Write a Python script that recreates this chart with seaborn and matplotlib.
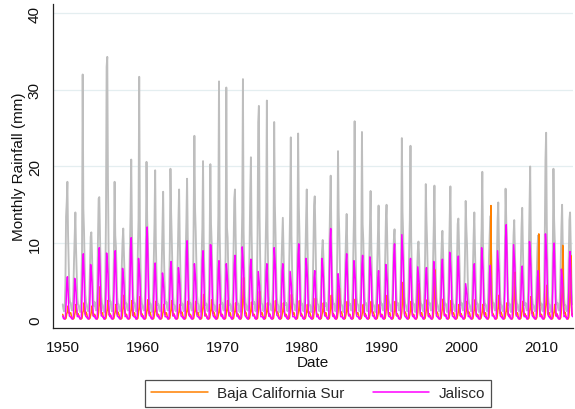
import numpy as np
import pandas as pd
import matplotlib
matplotlib.use("Agg")
import matplotlib.pyplot as plt
import seaborn as sns
from matplotlib.lines import Line2D

# Monthly rainfall (mm), one row per year, Jan..Dec
years = list(range(1950, 2014))

background_rows = [
    "2.0 1.4 1.1 1.5 4.5 13.5 15.3 18.0 11.2 7.4 3.1 2.2",
    "2.2 1.5 1.2 1.4 3.6 7.8 11.0 14.0 9.3 5.8 2.8 2.0",
    "1.9 1.3 1.0 1.5 4.1 9.0 32.0 14.5 11.6 6.9 3.3 2.3",
    "2.0 1.4 1.1 1.3 3.4 6.8 10.8 11.4 8.6 5.2 2.6 1.8",
    "2.3 1.6 1.2 1.6 4.0 10.5 15.8 16.0 11.1 6.4 3.0 2.1",
    "1.9 1.2 1.0 1.4 4.3 13.0 33.0 34.3 18.2 8.8 3.4 2.4",
    "2.4 1.5 1.1 1.5 3.7 9.0 18.0 11.0 9.5 5.9 2.9 2.0",
    "2.0 1.3 1.1 1.4 3.2 7.5 10.3 11.9 8.8 5.6 2.6 2.1",
    "2.1 1.4 1.2 1.7 4.4 9.5 14.0 20.9 12.3 6.6 3.1 2.2",
    "2.2 1.5 1.1 1.5 3.8 9.0 13.0 31.7 12.5 6.8 3.0 2.1",
    "1.9 1.4 1.2 1.4 4.1 10.0 20.6 13.0 10.6 6.2 2.9 2.0",
    "2.1 1.3 1.0 1.5 3.6 8.0 12.5 19.5 10.2 5.9 2.7 1.9",
    "2.0 1.4 1.1 1.3 3.5 7.5 12.0 16.7 9.7 5.3 2.8 2.1",
    "2.3 1.5 1.2 1.6 4.0 9.0 19.7 14.0 10.5 6.3 3.0 2.0",
    "1.9 1.3 1.1 1.4 3.7 8.5 13.0 17.0 10.4 6.0 2.6 1.9",
    "2.1 1.4 1.1 1.5 3.9 9.0 13.0 18.4 10.9 6.4 2.9 2.1",
    "2.2 1.5 1.2 1.6 4.2 13.4 24.0 14.5 11.5 7.0 3.1 2.2",
    "2.0 1.3 1.0 1.4 3.5 8.5 12.0 20.7 10.3 6.1 2.7 1.9",
    "2.1 1.4 1.1 1.5 3.8 10.6 20.3 12.5 10.0 5.9 2.8 2.0",
    "1.9 1.3 1.1 1.4 4.0 9.0 13.5 31.1 11.4 6.7 3.0 2.1",
    "2.2 1.5 1.2 1.6 3.6 8.5 30.3 12.0 10.7 6.2 2.9 1.9",
    "2.0 1.4 1.1 1.4 3.7 9.5 15.8 17.0 11.1 6.4 2.8 2.0",
    "2.1 1.3 1.0 1.5 4.1 9.0 14.0 31.4 11.8 6.5 3.1 2.2",
    "1.9 1.4 1.2 1.6 3.9 9.5 16.6 21.2 11.5 6.6 2.9 2.1",
    "2.3 1.5 1.1 1.5 4.3 11.0 25.8 27.9 13.4 7.5 3.2 2.2",
    "2.0 1.3 1.1 1.4 3.8 9.0 14.0 28.6 11.6 6.5 3.0 2.0",
    "2.1 1.4 1.2 1.6 4.0 9.5 25.8 15.0 11.2 6.3 2.9 2.1",
    "1.9 1.3 1.0 1.4 3.4 7.5 10.5 13.3 9.0 5.2 2.6 1.9",
    "2.2 1.5 1.1 1.5 3.9 9.0 14.5 23.8 11.0 6.4 3.0 2.1",
    "2.0 1.4 1.2 1.6 4.1 9.5 24.3 15.0 11.3 6.5 2.8 2.0",
    "2.1 1.3 1.1 1.4 3.7 8.5 13.0 17.0 10.4 6.0 2.7 1.9",
    "1.9 1.4 1.0 1.5 3.8 9.0 14.9 16.1 10.8 6.2 2.9 2.1",
    "2.0 1.3 1.1 1.4 3.2 6.5 9.0 10.4 8.4 5.0 2.5 1.8",
    "2.2 1.5 1.2 1.6 4.0 9.5 14.5 18.8 11.1 6.4 3.0 2.1",
    "2.1 1.4 1.1 1.5 3.9 9.5 22.0 14.0 10.9 6.2 2.8 2.0",
    "1.9 1.3 1.0 1.4 3.5 7.5 11.0 13.8 9.2 5.4 2.7 1.9",
    "2.1 1.4 1.2 1.5 3.8 9.0 13.5 25.9 11.2 6.3 2.9 2.1",
    "2.0 1.5 1.1 1.6 3.7 8.5 24.5 12.5 10.4 6.0 2.8 2.0",
    "2.2 1.4 1.1 1.4 3.6 8.0 12.0 16.8 9.9 5.8 2.7 1.9",
    "1.9 1.3 1.0 1.5 3.4 7.5 11.0 14.9 9.4 5.5 2.6 2.0",
    "2.1 1.4 1.2 1.4 3.7 8.0 13.0 15.0 10.1 5.9 2.8 2.1",
    "2.0 1.3 1.1 1.6 3.5 7.5 10.5 11.8 9.1 5.3 2.7 1.9",
    "2.2 1.5 1.2 1.5 4.0 9.5 23.7 14.0 11.0 6.4 3.0 2.1",
    "1.9 1.4 1.1 1.4 3.8 9.0 13.0 22.7 10.7 6.1 2.9 2.0",
    "2.1 1.3 1.0 1.5 3.3 6.5 9.0 10.2 8.1 4.9 2.5 1.9",
    "2.0 1.4 1.1 1.4 3.6 8.5 17.7 13.0 10.0 5.8 2.8 2.0",
    "2.2 1.5 1.2 1.6 3.7 8.0 12.0 17.5 10.2 5.9 2.9 2.1",
    "1.9 1.3 1.1 1.4 3.4 7.5 10.0 11.6 8.9 5.2 2.6 1.9",
    "2.1 1.4 1.0 1.5 3.6 8.5 13.0 17.4 10.1 5.9 2.8 2.0",
    "2.0 1.3 1.1 1.4 3.5 8.0 12.5 13.2 9.6 5.6 2.7 1.9",
    "2.2 1.5 1.2 1.6 3.7 8.5 15.5 12.0 9.8 5.7 2.9 2.1",
    "1.9 1.4 1.1 1.4 3.4 7.5 11.0 14.0 9.2 5.4 2.6 2.0",
    "2.1 1.3 1.0 1.5 3.6 8.5 12.0 19.3 10.2 5.9 2.8 1.9",
    "2.0 1.4 1.1 1.4 3.5 8.0 11.0 13.5 9.4 5.5 2.7 2.1",
    "2.2 1.5 1.2 1.6 3.7 8.5 13.0 15.3 10.0 5.8 2.9 2.0",
    "1.9 1.3 1.1 1.4 3.6 9.0 17.1 13.0 10.1 5.9 2.8 1.9",
    "2.1 1.4 1.0 1.5 3.4 7.5 11.0 13.0 9.1 5.3 2.7 2.1",
    "2.0 1.3 1.1 1.4 3.5 8.0 12.0 14.6 9.6 5.6 2.6 1.9",
    "2.2 1.5 1.2 1.6 3.8 9.0 14.0 20.0 10.6 6.1 2.9 2.0",
    "1.9 1.4 1.1 1.4 3.2 6.5 9.5 11.0 8.3 5.0 2.5 1.9",
    "2.1 1.3 1.1 1.5 4.0 11.0 20.9 24.4 12.5 7.0 3.1 2.1",
    "2.0 1.4 1.0 1.4 3.6 8.5 19.7 13.0 10.2 5.9 2.8 2.0",
    "2.2 1.5 1.2 1.6 3.7 8.0 12.0 15.0 9.8 5.7 2.8 1.9",
    "1.9 1.3 1.1 1.4 3.5 8.0 13.0 14.0 9.7 5.6 2.7 2.0",
]

bcs_rows = [
    "0.7 0.4 0.2 0.1 0.1 0.2 0.8 1.0 1.8 0.9 0.8 0.9",
    "0.9 0.5 0.2 0.1 0.1 0.2 0.7 1.1 2.0 1.0 0.6 0.8",
    "0.6 0.3 0.2 0.1 0.1 0.2 0.9 1.2 2.2 1.1 0.7 1.0",
    "0.8 0.4 0.2 0.1 0.1 0.2 0.6 1.0 1.8 0.9 0.5 0.7",
    "0.7 0.5 0.2 0.1 0.1 0.3 1.0 2.4 4.3 1.8 0.8 0.9",
    "0.9 0.3 0.2 0.1 0.1 0.2 0.8 1.4 2.5 1.2 0.6 0.8",
    "0.6 0.4 0.2 0.1 0.1 0.2 0.7 1.1 2.0 1.0 0.7 1.0",
    "0.8 0.5 0.2 0.1 0.1 0.2 0.9 1.8 3.2 1.4 0.8 0.7",
    "0.7 0.3 0.2 0.1 0.1 0.2 0.8 1.4 2.5 1.2 0.5 0.9",
    "0.9 0.4 0.2 0.1 0.1 0.2 0.9 1.7 3.0 1.3 0.7 0.8",
    "0.6 0.5 0.2 0.1 0.1 0.2 0.8 1.4 2.6 1.2 0.8 1.0",
    "0.8 0.3 0.2 0.1 0.1 0.2 0.7 1.3 2.4 1.1 0.6 0.7",
    "0.7 0.4 0.2 0.1 0.1 0.2 0.6 1.1 2.0 1.0 0.7 0.9",
    "0.9 0.5 0.2 0.1 0.1 0.2 0.8 1.4 2.5 1.2 0.5 0.8",
    "0.6 0.3 0.2 0.1 0.1 0.2 0.7 1.1 2.0 1.0 0.8 1.0",
    "0.8 0.4 0.2 0.1 0.1 0.2 0.8 1.3 2.4 1.1 0.6 0.7",
    "0.7 0.5 0.2 0.1 0.1 0.2 0.7 1.3 2.4 1.1 0.7 0.9",
    "0.9 0.3 0.2 0.1 0.1 0.2 0.9 1.8 3.3 1.5 0.5 0.8",
    "0.6 0.4 0.2 0.1 0.1 0.2 0.8 1.4 2.6 1.2 0.8 1.0",
    "0.8 0.5 0.2 0.1 0.1 0.2 0.6 1.1 2.0 1.0 0.6 0.7",
    "0.7 0.3 0.2 0.1 0.1 0.2 0.8 1.4 2.5 1.2 0.7 0.9",
    "0.9 0.4 0.2 0.1 0.1 0.2 0.7 1.2 2.2 1.1 0.5 0.8",
    "0.6 0.5 0.2 0.1 0.1 0.3 1.1 3.0 5.5 2.2 0.8 1.0",
    "0.8 0.3 0.2 0.1 0.1 0.2 0.7 1.3 2.3 1.1 0.6 0.7",
    "0.7 0.4 0.2 0.1 0.1 0.2 1.0 2.0 3.7 1.6 0.7 0.9",
    "0.9 0.5 0.2 0.1 0.1 0.2 0.7 1.2 2.2 1.1 0.5 0.8",
    "0.6 0.3 0.2 0.1 0.1 0.2 0.8 1.4 2.5 1.2 0.8 1.0",
    "0.8 0.4 0.2 0.1 0.1 0.2 0.7 1.2 2.2 1.1 0.6 0.7",
    "0.7 0.5 0.2 0.1 0.1 0.2 0.9 1.8 3.3 1.5 0.7 0.9",
    "0.9 0.3 0.2 0.1 0.1 0.2 0.8 1.4 2.5 1.2 0.5 0.8",
    "0.6 0.4 0.2 0.1 0.1 0.2 0.6 1.1 2.0 1.0 0.8 1.0",
    "0.8 0.5 0.2 0.1 0.1 0.2 0.8 1.5 2.8 1.3 0.6 0.7",
    "0.7 0.3 0.2 0.1 0.1 0.2 0.7 1.2 2.2 1.1 0.7 0.9",
    "0.9 0.4 0.2 0.1 0.1 0.2 0.9 1.8 3.2 1.4 0.5 0.8",
    "0.6 0.5 0.2 0.1 0.1 0.3 1.0 2.3 4.1 1.7 0.8 1.0",
    "0.8 0.3 0.2 0.1 0.1 0.2 0.7 1.3 2.4 1.1 0.6 0.7",
    "0.7 0.4 0.2 0.1 0.1 0.2 0.8 1.5 2.7 1.2 0.7 0.9",
    "0.9 0.5 0.2 0.1 0.1 0.2 0.6 1.1 2.0 1.0 0.5 0.8",
    "0.6 0.3 0.2 0.1 0.1 0.2 0.7 1.3 2.4 1.1 0.8 1.0",
    "0.8 0.4 0.2 0.1 0.1 0.2 0.6 1.1 2.0 1.0 0.6 0.7",
    "0.7 0.5 0.2 0.1 0.1 0.2 0.9 1.8 3.2 1.4 0.7 0.9",
    "0.9 0.3 0.2 0.1 0.1 0.2 0.7 1.3 2.4 1.1 0.5 0.8",
    "0.6 0.4 0.2 0.1 0.1 0.3 1.1 2.7 4.9 2.0 0.8 1.0",
    "0.8 0.5 0.2 0.1 0.1 0.2 0.7 1.3 2.4 1.1 0.6 0.7",
    "0.7 0.3 0.2 0.1 0.1 0.3 1.0 2.6 4.7 1.9 0.7 0.9",
    "0.9 0.4 0.2 0.1 0.1 0.2 0.8 1.4 2.6 1.2 0.5 0.8",
    "0.6 0.5 0.2 0.1 0.1 0.3 1.2 3.6 6.5 2.6 0.8 1.0",
    "0.8 0.3 0.2 0.1 0.1 0.2 0.8 1.5 2.7 1.2 0.6 0.7",
    "0.7 0.4 0.2 0.1 0.1 0.2 0.8 1.4 2.5 1.2 0.7 0.9",
    "0.9 0.5 0.2 0.1 0.1 0.2 0.6 1.1 2.0 1.0 0.5 0.8",
    "0.6 0.3 0.2 0.1 0.1 0.2 0.7 1.3 2.4 1.1 0.8 1.0",
    "0.8 0.4 0.2 0.1 0.1 0.2 0.8 1.4 2.6 1.2 0.6 0.7",
    "0.7 0.5 0.2 0.1 0.1 0.2 0.6 1.1 2.0 1.0 0.7 0.9",
    "0.9 0.3 0.2 0.1 0.1 0.3 1.5 5.2 14.9 3.4 0.9 0.8",
    "0.6 0.4 0.2 0.1 0.1 0.2 0.9 1.8 3.2 1.4 0.8 1.0",
    "0.8 0.5 0.2 0.1 0.1 0.2 0.7 1.2 2.2 1.1 0.6 0.7",
    "0.7 0.3 0.2 0.1 0.1 0.3 1.2 3.4 6.2 2.5 0.7 0.9",
    "0.9 0.4 0.2 0.1 0.1 0.2 0.7 1.3 2.4 1.1 0.5 0.8",
    "0.6 0.5 0.2 0.1 0.1 0.2 0.8 1.7 3.0 1.3 0.8 1.0",
    "0.8 0.3 0.2 0.1 0.1 0.3 1.4 4.5 11.2 2.8 0.6 0.7",
    "0.7 0.4 0.2 0.1 0.1 0.3 1.0 2.5 4.5 1.9 0.7 0.9",
    "0.9 0.5 0.2 0.1 0.1 0.2 0.6 1.1 2.0 1.0 0.5 0.8",
    "0.6 0.3 0.2 0.1 0.1 0.3 1.3 4.2 9.7 2.5 0.8 1.0",
    "0.8 0.4 0.2 0.1 0.1 0.3 1.2 3.8 8.4 2.3 0.6 0.7",
]

jalisco_rows = [
    "0.5 0.2 0.1 0.1 0.3 2.1 4.6 5.6 3.9 1.6 0.5 0.4",
    "0.4 0.2 0.1 0.1 0.4 2.2 5.4 4.7 3.6 1.5 0.4 0.5",
    "0.5 0.3 0.1 0.1 0.3 3.2 7.3 8.6 6.0 2.4 0.6 0.4",
    "0.4 0.2 0.1 0.1 0.4 2.9 7.2 6.3 4.9 2.0 0.5 0.4",
    "0.5 0.2 0.1 0.1 0.3 3.5 8.1 9.4 6.5 2.6 0.5 0.5",
    "0.4 0.3 0.1 0.1 0.4 3.4 8.7 7.6 6.0 2.4 0.6 0.4",
    "0.6 0.2 0.1 0.1 0.3 3.4 7.8 9.0 6.2 2.5 0.5 0.4",
    "0.4 0.2 0.1 0.1 0.4 2.6 6.7 5.8 4.6 1.9 0.4 0.5",
    "0.5 0.2 0.1 0.1 0.3 4.0 9.2 10.7 7.4 3.0 0.6 0.4",
    "0.4 0.3 0.1 0.1 0.4 3.1 8.0 6.9 5.5 2.2 0.5 0.4",
    "0.5 0.2 0.1 0.1 0.3 4.6 10.4 12.1 8.3 3.4 0.6 0.5",
    "0.4 0.2 0.1 0.1 0.4 2.8 6.4 7.4 5.1 2.1 0.5 0.4",
    "0.5 0.2 0.1 0.1 0.3 2.4 6.1 5.3 4.2 1.7 0.4 0.4",
    "0.4 0.3 0.1 0.1 0.4 2.9 6.6 7.6 5.3 2.1 0.5 0.5",
    "0.6 0.2 0.1 0.1 0.3 2.6 6.8 5.9 4.7 1.9 0.5 0.4",
    "0.4 0.2 0.1 0.1 0.4 3.9 8.9 10.3 7.1 2.9 0.6 0.4",
    "0.5 0.2 0.1 0.1 0.3 2.8 7.3 6.3 5.0 2.0 0.5 0.4",
    "0.4 0.3 0.1 0.1 0.4 3.4 7.8 9.0 6.2 2.5 0.5 0.5",
    "0.5 0.2 0.1 0.1 0.3 3.7 9.8 9.7 6.8 2.7 0.6 0.4",
    "0.4 0.2 0.1 0.1 0.4 2.9 6.6 7.7 5.3 2.2 0.5 0.4",
    "0.6 0.2 0.1 0.1 0.3 2.8 7.3 6.3 5.0 2.0 0.5 0.5",
    "0.4 0.3 0.1 0.1 0.4 3.2 7.2 8.4 5.8 2.4 0.5 0.4",
    "0.5 0.2 0.1 0.1 0.3 3.6 9.5 8.2 6.6 2.7 0.6 0.4",
    "0.4 0.2 0.1 0.1 0.4 3.0 6.8 7.9 5.5 2.2 0.5 0.5",
    "0.5 0.2 0.1 0.1 0.3 2.4 6.3 5.4 4.4 1.8 0.4 0.4",
    "0.4 0.3 0.1 0.1 0.4 2.8 6.3 7.3 5.0 2.0 0.5 0.4",
    "0.6 0.2 0.1 0.1 0.3 3.6 9.4 8.1 6.5 2.6 0.6 0.5",
    "0.4 0.2 0.1 0.1 0.4 2.8 6.3 7.3 5.0 2.0 0.5 0.4",
    "0.5 0.2 0.1 0.1 0.3 2.4 6.3 5.4 4.4 1.8 0.4 0.4",
    "0.4 0.3 0.1 0.1 0.4 3.8 8.5 9.9 6.9 2.8 0.6 0.5",
    "0.5 0.2 0.1 0.1 0.3 3.0 8.0 6.9 5.5 2.2 0.5 0.4",
    "0.4 0.2 0.1 0.1 0.4 2.4 5.5 6.4 4.4 1.8 0.4 0.4",
    "0.5 0.2 0.1 0.1 0.3 3.0 8.0 6.9 5.5 2.2 0.5 0.5",
    "0.4 0.3 0.1 0.1 0.4 4.5 10.2 11.9 8.2 3.3 0.6 0.4",
    "0.6 0.2 0.1 0.1 0.3 2.3 6.0 5.2 4.1 1.7 0.4 0.4",
    "0.4 0.2 0.1 0.1 0.4 3.3 7.4 8.6 5.9 2.4 0.5 0.5",
    "0.5 0.2 0.1 0.1 0.3 2.9 7.7 6.6 5.3 2.2 0.5 0.4",
    "0.4 0.3 0.1 0.1 0.4 3.2 7.2 8.4 5.8 2.4 0.5 0.4",
    "0.5 0.2 0.1 0.1 0.3 3.1 8.2 7.1 5.7 2.3 0.5 0.5",
    "0.4 0.2 0.1 0.1 0.4 2.4 5.5 6.4 4.4 1.8 0.4 0.4",
    "0.6 0.2 0.1 0.1 0.3 2.7 7.2 6.2 5.0 2.0 0.5 0.4",
    "0.4 0.3 0.1 0.1 0.4 3.8 8.5 9.9 6.9 2.8 0.6 0.5",
    "0.5 0.2 0.1 0.1 0.3 4.2 11.1 9.5 7.7 3.1 0.6 0.4",
    "0.4 0.2 0.1 0.1 0.4 3.0 6.9 8.0 5.5 2.2 0.5 0.4",
    "0.5 0.2 0.1 0.1 0.3 2.6 6.9 5.9 4.8 1.9 0.5 0.5",
    "0.4 0.3 0.1 0.1 0.4 2.6 5.8 6.8 4.7 1.9 0.4 0.4",
    "0.5 0.2 0.1 0.1 0.3 2.9 7.6 6.5 5.2 2.1 0.5 0.4",
    "0.4 0.2 0.1 0.1 0.4 3.0 6.8 7.9 5.5 2.2 0.5 0.5",
    "0.6 0.2 0.1 0.1 0.3 3.3 8.8 7.6 6.1 2.5 0.5 0.4",
    "0.4 0.2 0.1 0.1 0.4 3.2 7.1 8.3 5.7 2.3 0.5 0.4",
    "0.5 0.3 0.1 0.1 0.3 1.8 4.7 4.0 3.3 1.3 0.4 0.5",
    "0.4 0.2 0.1 0.1 0.4 2.8 6.3 7.3 5.0 2.0 0.5 0.4",
    "0.5 0.2 0.1 0.1 0.3 3.6 9.4 8.1 6.5 2.6 0.5 0.4",
    "0.4 0.2 0.1 0.1 0.4 2.7 6.1 7.1 4.9 2.0 0.5 0.5",
    "0.5 0.3 0.1 0.1 0.3 3.4 9.0 7.7 6.2 2.5 0.5 0.4",
    "0.4 0.2 0.1 0.1 0.4 4.7 10.7 12.4 8.6 3.5 0.6 0.4",
    "0.6 0.2 0.1 0.1 0.3 3.7 9.8 8.4 6.8 2.7 0.5 0.5",
    "0.4 0.2 0.1 0.1 0.4 2.7 6.0 7.0 4.8 1.9 0.4 0.4",
    "0.5 0.3 0.1 0.1 0.3 3.9 10.2 8.8 7.0 2.9 0.6 0.4",
    "0.4 0.2 0.1 0.1 0.4 2.4 5.5 6.4 4.4 1.8 0.4 0.5",
    "0.5 0.2 0.1 0.1 0.3 4.3 11.2 9.6 7.7 3.1 0.6 0.4",
    "0.4 0.2 0.1 0.1 0.4 3.8 8.6 10.0 6.9 2.8 0.5 0.4",
    "0.6 0.2 0.1 0.1 0.3 2.5 6.6 5.7 4.6 1.8 0.4 0.5",
    "0.4 0.3 0.1 0.1 0.4 3.4 7.7 8.9 6.2 2.5 0.5 0.4",
]

x_ticks = [1950, 1960, 1970, 1980, 1990, 2000, 2010]
y_ticks = [0, 10, 20, 30, 40]


def to_series(rows):
    vals = [float(v) for r in rows for v in r.split()]
    t = [y + m / 12.0 for y in years for m in range(12)]
    return pd.DataFrame({"date": t, "rain": vals})


df_bg = to_series(background_rows)
df_bcs = to_series(bcs_rows)
df_jal = to_series(jalisco_rows)

sns.set_style("white")
plt.rcParams["font.family"] = ["Liberation Sans", "DejaVu Sans"]

FS = 11
fig = plt.figure(figsize=(5.75, 4.10), dpi=100)
ax = fig.add_axes([53 / 575, 81 / 410, 520 / 575, 324 / 410])

GRAY = "#bebebe"
ORANGE = "#ff8000"
MAGENTA = "#ff00ff"

sns.lineplot(data=df_bg, x="date", y="rain", color=GRAY, lw=1.35, ax=ax, legend=False)
sns.lineplot(data=df_bcs, x="date", y="rain", color=ORANGE, lw=1.1, ax=ax, legend=False)
sns.lineplot(data=df_jal, x="date", y="rain", color=MAGENTA, lw=1.1, ax=ax, legend=False)

ax.set_xlim(1948.78, 2013.95)
ax.set_ylim(-1.08, 41.2)
ax.set_xticks(x_ticks)
ax.set_yticks(y_ticks)
ax.set_xticklabels([str(v) for v in x_ticks])
ax.set_yticklabels([str(v) for v in y_ticks])

# horizontal grid lines
for yv in y_ticks[1:]:
    ax.axhline(yv, color="#e4eef0", lw=0.9, zorder=0)

for s in ["top", "right"]:
    ax.spines[s].set_visible(False)
for s in ["left", "bottom"]:
    ax.spines[s].set_color("#222222")
    ax.spines[s].set_linewidth(0.9)

ax.tick_params(axis="both", which="major", direction="out", length=4.5,
               width=0.8, color="#222222", labelsize=FS, labelcolor="#111111")
ax.tick_params(axis="x", pad=4.0)
ax.tick_params(axis="y", pad=3.5, labelrotation=90)
for lab in ax.get_yticklabels():
    lab.set_va("center")

ax.set_xlabel("Date", fontsize=FS, color="#111111", labelpad=1)
ax.set_ylabel("Monthly Rainfall (mm)", fontsize=FS, color="#111111")
ax.yaxis.set_label_coords(-0.052, 0.5)

handles = [Line2D([0], [0], color=ORANGE, lw=1.1),
           Line2D([0], [0], color=MAGENTA, lw=1.1)]
leg = fig.legend(handles, ["Baja California Sur", "Jalisco"], ncol=2,
                 loc="center", bbox_to_anchor=(0.553, 0.038),
                 frameon=True, fancybox=False, fontsize=FS,
                 handlelength=3.7, handletextpad=0.6, columnspacing=1.85,
                 borderpad=0.4, borderaxespad=0)
leg.get_frame().set_edgecolor("#222222")
leg.get_frame().set_linewidth(0.9)

fig.savefig("out.png", dpi=100)
